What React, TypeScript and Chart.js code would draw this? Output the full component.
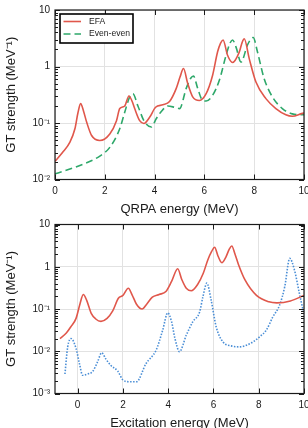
import React, { useEffect, useRef } from "react";
import { Chart, registerables } from "chart.js";

Chart.register(...registerables);

const FONT = "'Liberation Sans', Arial, Helvetica, sans-serif";
const INK = "#1a1a1a";
const GRID = "#e2e2e2";
const RED = "#e0574b";
const GREEN = "#2ea86a";
const BLUE = "#4a8ed6";

// Upper panel: GT strength vs QRPA energy
const qrpaTicks = [0, 2, 4, 6, 8, 10];
const efaEnergy = [0, 0.3, 0.6, 0.8, 0.92, 1.03, 1.15, 1.27, 1.47, 1.8, 2.2, 2.47, 2.6, 2.8, 2.97, 3.1, 3.2, 3.4, 3.57, 3.8, 4.04, 4.33, 4.6, 4.87, 5.02, 5.16, 5.33, 5.53, 5.8, 6.07, 6.33, 6.53, 6.65, 6.75, 6.93, 7.13, 7.4, 7.52, 7.6, 7.8, 8.07, 8.47, 8.87, 9.27, 9.53, 9.93, 10];
const efaStrength = [0.021, 0.03, 0.046, 0.079, 0.15, 0.22, 0.16, 0.104, 0.06, 0.049, 0.064, 0.11, 0.18, 0.2, 0.3, 0.24, 0.18, 0.11, 0.098, 0.126, 0.19, 0.21, 0.24, 0.41, 0.65, 0.92, 0.5, 0.29, 0.25, 0.33, 0.7, 1.82, 2.6, 2.95, 1.58, 1.18, 1.8, 2.7, 3.1, 1.38, 0.53, 0.27, 0.18, 0.14, 0.132, 0.148, 0.15];
const evenEnergy = [0, 1.0, 1.8, 2.2, 2.6, 2.8, 3.0, 3.13, 3.33, 3.6, 3.87, 4.07, 4.27, 4.53, 4.8, 5.0, 5.27, 5.45, 5.56, 5.73, 5.93, 6.07, 6.33, 6.6, 6.87, 7.03, 7.13, 7.27, 7.47, 7.73, 7.88, 7.96, 8.13, 8.4, 8.73, 9.13, 9.53, 9.93, 10];
const evenStrength = [0.0126, 0.0177, 0.026, 0.037, 0.079, 0.155, 0.29, 0.33, 0.2, 0.104, 0.085, 0.12, 0.16, 0.2, 0.19, 0.18, 0.41, 0.62, 0.68, 0.41, 0.25, 0.245, 0.31, 0.57, 1.58, 2.6, 2.95, 2.2, 1.2, 2.4, 3.1, 3.27, 1.82, 0.61, 0.29, 0.18, 0.145, 0.14, 0.14];

// Lower panel: GT strength vs excitation energy
const excTicks = [0, 2, 4, 6, 8, 10];
const excEfaEnergy = [-0.78, -0.5, -0.3, -0.07, 0.1, 0.25, 0.4, 0.6, 0.8, 1.03, 1.3, 1.55, 1.8, 2.0, 2.24, 2.4, 2.6, 2.85, 3.05, 3.3, 3.6, 3.9, 4.15, 4.42, 4.6, 4.8, 5.02, 5.3, 5.55, 5.75, 5.92, 6.05, 6.2, 6.37, 6.55, 6.7, 6.81, 6.95, 7.1, 7.4, 7.9, 8.45, 8.8, 9.4, 10];
const excEfaStrength = [0.02, 0.027, 0.038, 0.06, 0.13, 0.22, 0.16, 0.079, 0.058, 0.051, 0.06, 0.09, 0.18, 0.21, 0.31, 0.22, 0.13, 0.1, 0.13, 0.19, 0.22, 0.26, 0.45, 0.9, 0.5, 0.31, 0.27, 0.38, 0.7, 1.45, 2.3, 2.9, 1.8, 1.25, 1.7, 2.6, 3.1, 2.0, 1.15, 0.48, 0.21, 0.148, 0.14, 0.155, 0.21];
const borzovEnergy = [-0.56, -0.44, -0.29, -0.07, 0.08, 0.22, 0.45, 0.66, 0.88, 1.06, 1.25, 1.45, 1.77, 2.0, 2.27, 2.6, 3.02, 3.47, 3.76, 3.98, 4.15, 4.3, 4.5, 4.8, 5.09, 5.39, 5.53, 5.71, 5.9, 6.12, 6.42, 6.79, 7.15, 7.6, 8.04, 8.34, 8.63, 8.92, 9.15, 9.37, 9.58, 9.8, 9.96];
const borzovStrength = [0.0029, 0.0126, 0.02, 0.0117, 0.0051, 0.0027, 0.0029, 0.0033, 0.0056, 0.0092, 0.0065, 0.0047, 0.0034, 0.0021, 0.0019, 0.0019, 0.0051, 0.0107, 0.032, 0.081, 0.05, 0.02, 0.0098, 0.024, 0.05, 0.085, 0.19, 0.41, 0.16, 0.038, 0.0166, 0.0134, 0.0127, 0.015, 0.022, 0.032, 0.066, 0.123, 0.34, 1.58, 0.83, 0.23, 0.093];

const yTitle = "GT strength (MeV\u207B\u00B9)";
const SUP: Record<string, string> = { "-": "\u207B", "1": "\u00B9", "2": "\u00B2", "3": "\u00B3" };

const CANVAS_W = 308;
const CANVAS_H = 224;
const PLOT_LEFT = 55;
const PLOT_RIGHT_PAD = 4;
const PLOT_BOTTOM = 179.5;
const LEGEND_FONT = 8.6;

const pts = (xs: number[], ys: number[]) => xs.map((x, i) => ({ x, y: ys[i] }));

const isDecade = (v: number) => Math.abs(Math.log10(v) - Math.round(Math.log10(v))) < 1e-6;

function decadeLabel(v: number): string {
  const p = Math.round(Math.log10(v));
  if (p === 0) return "1";
  if (p === 1) return "10";
  return "10" + String(p).split("").map((c) => SUP[c] || c).join("");
}

type LegendItem = { color: string; dash: number[]; width: number; parts: { text: string; italic?: boolean }[] };

// Draws the boxed frame with inward ticks on all four sides, plus the legend box.
function framePlugin(legendItems: LegendItem[], legendBox: { x: number; y: number; w: number; h: number }) {
  return {
    id: "frameTicks",
    afterDraw(chart: any) {
      const { ctx, chartArea } = chart;
      const { left, right, top, bottom } = chartArea;
      const xs = chart.scales.x;
      const ys = chart.scales.y;
      ctx.save();
      ctx.strokeStyle = INK;
      ctx.lineWidth = 1;
      ctx.beginPath();
      for (const t of ys.ticks) {
        const py = Math.round(ys.getPixelForValue(t.value)) + 0.5;
        if (py < top - 1 || py > bottom + 1) continue;
        const len = isDecade(t.value) ? 5 : 3;
        ctx.moveTo(left, py);
        ctx.lineTo(left + len, py);
        ctx.moveTo(right, py);
        ctx.lineTo(right - len, py);
      }
      for (const t of xs.ticks) {
        const px = Math.round(xs.getPixelForValue(t.value)) + 0.5;
        ctx.moveTo(px, bottom);
        ctx.lineTo(px, bottom - 5);
        ctx.moveTo(px, top);
        ctx.lineTo(px, top + 5);
      }
      ctx.stroke();
      ctx.lineWidth = 1.2;
      ctx.strokeRect(left, top, right - left, bottom - top);

      // legend
      const b = legendBox;
      ctx.fillStyle = "#ffffff";
      ctx.fillRect(b.x, b.y, b.w, b.h);
      ctx.lineWidth = 1.6;
      ctx.strokeStyle = "#000000";
      ctx.strokeRect(b.x, b.y, b.w, b.h);
      legendItems.forEach((item, i) => {
        const cy = b.y + (legendItems.length > 1 ? 7.5 + i * 12.5 : b.h / 2);
        ctx.save();
        ctx.strokeStyle = item.color;
        ctx.lineWidth = item.width;
        ctx.setLineDash(item.dash);
        ctx.beginPath();
        ctx.moveTo(b.x + 3.5, cy);
        ctx.lineTo(b.x + 21, cy);
        ctx.stroke();
        ctx.restore();
        let tx = b.x + 29;
        ctx.fillStyle = INK;
        ctx.textBaseline = "middle";
        ctx.textAlign = "left";
        for (const part of item.parts) {
          ctx.font = `${part.italic ? "italic " : ""}${LEGEND_FONT}px ${FONT}`;
          ctx.fillText(part.text, tx, cy);
          tx += ctx.measureText(part.text).width;
        }
      });
      ctx.restore();
    },
  };
}

function makeConfig(opts: {
  datasets: any[];
  xMin: number;
  xMax: number;
  xTicks: number[];
  yMinExp: number;
  yMaxExp: number;
  xTitle: string;
  plotTop: number;
  legendItems: LegendItem[];
  legendBox: { x: number; y: number; w: number; h: number };
}) {
  return {
    type: "line",
    data: { datasets: opts.datasets },
    options: {
      animation: false,
      responsive: false,
      maintainAspectRatio: false,
      devicePixelRatio: 1,
      parsing: false,
      layout: { padding: { top: opts.plotTop, right: PLOT_RIGHT_PAD, left: 0, bottom: 0 } },
      elements: { point: { radius: 0 }, line: { tension: 0 } },
      plugins: { legend: { display: false }, tooltip: { enabled: false }, title: { display: false } },
      scales: {
        x: {
          type: "linear",
          min: opts.xMin,
          max: opts.xMax,
          afterBuildTicks(scale: any) {
            scale.ticks = opts.xTicks.map((v) => ({ value: v }));
          },
          afterFit(scale: any) {
            scale.height = CANVAS_H - PLOT_BOTTOM;
            scale.paddingLeft = 0;
            scale.paddingRight = 0;
          },
          ticks: {
            color: INK,
            font: { family: FONT, size: 10 },
            padding: 6,
            maxRotation: 0,
            autoSkip: false,
            callback: (v: number) => String(v),
          },
          grid: { color: GRID, drawTicks: false, lineWidth: 1 },
          border: { display: false },
          title: {
            display: true,
            text: opts.xTitle,
            color: INK,
            font: { family: FONT, size: 13 },
            padding: { top: 0, bottom: 6.7 },
          },
        },
        y: {
          type: "logarithmic",
          min: Math.pow(10, opts.yMinExp),
          max: Math.pow(10, opts.yMaxExp),
          afterBuildTicks(scale: any) {
            const t: { value: number }[] = [];
            for (let p = opts.yMinExp; p < opts.yMaxExp; p++) {
              for (let m = 1; m <= 9; m++) t.push({ value: parseFloat((m * Math.pow(10, p)).toPrecision(6)) });
            }
            t.push({ value: Math.pow(10, opts.yMaxExp) });
            scale.ticks = t;
          },
          afterFit(scale: any) {
            scale.width = PLOT_LEFT;
            scale.paddingTop = 0;
            scale.paddingBottom = 0;
          },
          ticks: {
            color: INK,
            font: { family: FONT, size: 10 },
            padding: 5,
            autoSkip: false,
            callback: (v: number) => (isDecade(v) ? decadeLabel(v) : ""),
          },
          grid: {
            drawTicks: false,
            lineWidth: 1,
            color: (c: any) => (c.tick && isDecade(c.tick.value) ? GRID : "rgba(0,0,0,0)"),
          },
          border: { display: false },
          title: {
            display: true,
            text: yTitle,
            color: INK,
            font: { family: FONT, size: 13 },
            padding: { top: 4, bottom: 0 },
          },
        },
      },
    },
    plugins: [framePlugin(opts.legendItems, opts.legendBox)],
  };
}

function Panel(props: { config: any; top: number }) {
  const ref = useRef<HTMLCanvasElement | null>(null);
  useEffect(() => {
    if (!ref.current) return;
    const chart = new Chart(ref.current, props.config);
    return () => chart.destroy();
  }, [props.config]);
  return (
    <canvas
      ref={ref}
      width={CANVAS_W}
      height={CANVAS_H}
      style={{ position: "absolute", left: 0, top: props.top, width: CANVAS_W, height: CANVAS_H, display: "block" }}
    />
  );
}

const upperConfig = makeConfig({
  datasets: [
    {
      label: "EFA",
      data: pts(efaEnergy, efaStrength),
      borderColor: RED,
      borderWidth: 1.6,
      cubicInterpolationMode: "monotone",
      fill: false,
    },
    {
      label: "Even-even",
      data: pts(evenEnergy, evenStrength),
      borderColor: GREEN,
      borderWidth: 1.6,
      borderDash: [7, 4],
      cubicInterpolationMode: "monotone",
      fill: false,
    },
  ],
  xMin: 0,
  xMax: 10,
  xTicks: qrpaTicks,
  yMinExp: -2,
  yMaxExp: 1,
  xTitle: "QRPA energy (MeV)",
  plotTop: 10,
  legendItems: [
    { color: RED, dash: [], width: 1.6, parts: [{ text: "EFA" }] },
    { color: GREEN, dash: [7, 4], width: 1.6, parts: [{ text: "Even-even" }] },
  ],
  legendBox: { x: 60, y: 14, w: 73, h: 29 },
});

const lowerConfig = makeConfig({
  datasets: [
    {
      label: "EFA",
      data: pts(excEfaEnergy, excEfaStrength),
      borderColor: RED,
      borderWidth: 1.6,
      cubicInterpolationMode: "monotone",
      fill: false,
    },
    {
      label: "Borzov et al. (1995)",
      data: pts(borzovEnergy, borzovStrength),
      borderColor: BLUE,
      borderWidth: 1.6,
      borderDash: [1.5, 1.5],
      cubicInterpolationMode: "monotone",
      fill: false,
    },
  ],
  xMin: -1,
  xMax: 10,
  xTicks: excTicks,
  yMinExp: -3,
  yMaxExp: 1,
  xTitle: "Excitation energy (MeV)",
  plotTop: 10.5,
  legendItems: [
    {
      color: BLUE,
      dash: [1.5, 1.5],
      width: 1.6,
      parts: [{ text: "Borzov " }, { text: "et al.", italic: true }, { text: " (1995)" }],
    },
  ],
  legendBox: { x: 59, y: 228, w: 109, h: 17 },
});

export default function App() {
  return (
    <div style={{ position: "fixed", left: 0, top: 0, width: 308, height: 428, overflow: "hidden", background: "#fff" }}>
      <Panel config={upperConfig} top={0} />
      <Panel config={lowerConfig} top={214} />
    </div>
  );
}
